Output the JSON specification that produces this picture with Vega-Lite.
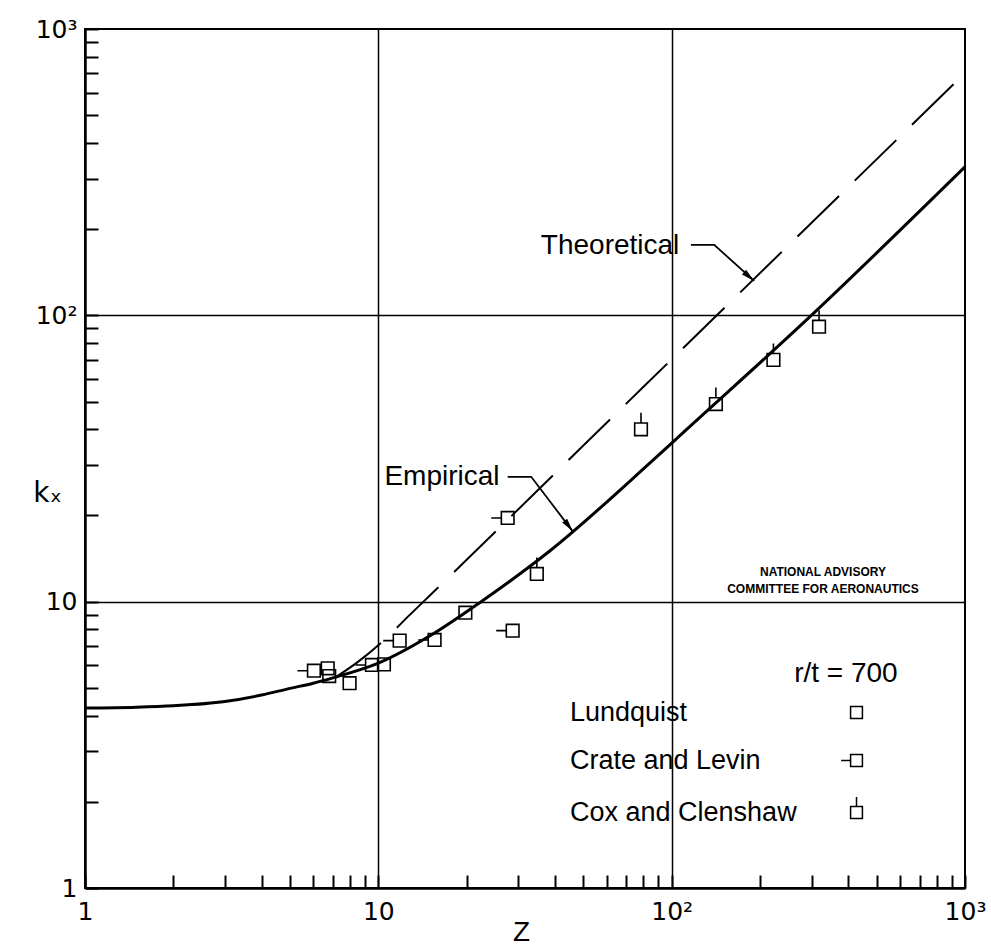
{
  "$schema": "https://vega.github.io/schema/vega-lite/v6.json",
  "width": 880,
  "height": 859,
  "autosize": {"type": "none"},
  "padding": {"left": 85, "top": 29, "right": 26, "bottom": 63},
  "background": "white",
  "config": {"view": {"stroke": "black", "strokeWidth": 2}, "font": "Liberation Sans"},
  "datasets": {
    "empirical": [
      {"Z": 1, "k": 4.25}, {"Z": 1.5, "k": 4.28}, {"Z": 2, "k": 4.33}, {"Z": 3, "k": 4.48},
      {"Z": 4, "k": 4.72}, {"Z": 5, "k": 4.98}, {"Z": 6, "k": 5.19}, {"Z": 7, "k": 5.42},
      {"Z": 10, "k": 6.1}, {"Z": 15, "k": 7.6}, {"Z": 22.4, "k": 10}, {"Z": 38.3, "k": 15.0},
      {"Z": 84, "k": 30.4}, {"Z": 112, "k": 39.8}, {"Z": 287, "k": 96}, {"Z": 1000, "k": 330}
    ],
    "theoretical": [
      {"Z": 7.1, "k": 5.42}, {"Z": 8.5, "k": 6.15}, {"Z": 10.5, "k": 7.37}, {"Z": 12.8, "k": 8.99},
      {"Z": 20, "k": 14.0}, {"Z": 50, "k": 35.1}, {"Z": 100, "k": 70.2}, {"Z": 300, "k": 210.6},
      {"Z": 1000, "k": 702}
    ],
    "tests": [
      {"series": "Lundquist", "Z": 6.72, "k": 5.85},
      {"series": "Lundquist", "Z": 6.8, "k": 5.5},
      {"series": "Lundquist", "Z": 7.98, "k": 5.19},
      {"series": "Lundquist", "Z": 10.45, "k": 6.04},
      {"series": "Lundquist", "Z": 19.8, "k": 9.15},
      {"series": "Crate and Levin", "Z": 6.03, "k": 5.74},
      {"series": "Crate and Levin", "Z": 9.51, "k": 6.01},
      {"series": "Crate and Levin", "Z": 11.82, "k": 7.31},
      {"series": "Crate and Levin", "Z": 15.55, "k": 7.35},
      {"series": "Crate and Levin", "Z": 28.7, "k": 7.92},
      {"series": "Crate and Levin", "Z": 27.6, "k": 19.6},
      {"series": "Cox and Clenshaw", "Z": 34.7, "k": 12.5},
      {"series": "Cox and Clenshaw", "Z": 78.6, "k": 40.0},
      {"series": "Cox and Clenshaw", "Z": 141.5, "k": 49.0},
      {"series": "Cox and Clenshaw", "Z": 222.3, "k": 69.9},
      {"series": "Cox and Clenshaw", "Z": 318, "k": 91.3}
    ],
    "leaders": [
      {"leader": "Theoretical", "seq": 1, "Z": 116.3, "k": 176.2},
      {"leader": "Theoretical", "seq": 2, "Z": 139.7, "k": 176.2},
      {"leader": "Theoretical", "seq": 3, "Z": 191.1, "k": 131.9},
      {"leader": "Empirical", "seq": 1, "Z": 27.6, "k": 27.3},
      {"leader": "Empirical", "seq": 2, "Z": 33.2, "k": 27.3},
      {"leader": "Empirical", "seq": 3, "Z": 46.0, "k": 17.6}
    ]
  },
  "layer": [
    {
      "data": {"name": "empirical"},
      "mark": {"type": "line", "color": "black", "strokeWidth": 3, "interpolate": "monotone"},
      "encoding": {
        "x": {
          "field": "Z", "type": "quantitative",
          "scale": {"type": "log", "domain": [1, 1000], "nice": false},
          "axis": {
            "title": "Z",
            "values": [1, 2, 3, 4, 5, 6, 7, 8, 9, 10, 20, 30, 40, 50, 60, 70, 80, 90, 100, 200, 300, 400, 500, 600, 700, 800, 900, 1000],
            "labelExpr": "datum.value == 1 ? '1' : datum.value == 10 ? '10' : datum.value == 100 ? '10²' : datum.value == 1000 ? '10³' : ''",
            "labelFontSize": 25, "labelColor": "black", "labelFont": "DejaVu Sans",
            "labelPadding": 24, "labelOverlap": false, "labelFlush": false,
            "tickSize": -13, "tickWidth": 2, "tickColor": "black",
            "domainColor": "black", "domainWidth": 2.5,
            "grid": true, "gridColor": "black", "gridWidth": 1.5,
            "gridOpacity": {"condition": {"test": "datum.value == 10 || datum.value == 100", "value": 1}, "value": 0},
            "titleFontSize": 28, "titleFontWeight": "normal", "titleColor": "black", "titleFont": "Liberation Sans",
            "titleX": 436, "titleY": 44, "titleBaseline": "middle", "titleAlign": "center"
          }
        },
        "y": {
          "field": "k", "type": "quantitative",
          "scale": {"type": "log", "domain": [1, 1000], "nice": false},
          "axis": {
            "title": "kₓ",
            "values": [1, 2, 3, 4, 5, 6, 7, 8, 9, 10, 20, 30, 40, 50, 60, 70, 80, 90, 100, 200, 300, 400, 500, 600, 700, 800, 900, 1000],
            "labelExpr": "datum.value == 1 ? '1' : datum.value == 10 ? '10' : datum.value == 100 ? '10²' : datum.value == 1000 ? '10³' : ''",
            "labelFontSize": 25, "labelColor": "black", "labelFont": "DejaVu Sans",
            "labelPadding": 21, "labelOverlap": false, "labelFlush": false,
            "tickSize": -13, "tickWidth": 2, "tickColor": "black",
            "domainColor": "black", "domainWidth": 2.5,
            "grid": true, "gridColor": "black", "gridWidth": 1.5,
            "gridOpacity": {"condition": {"test": "datum.value == 10 || datum.value == 100", "value": 1}, "value": 0},
            "titleFontSize": 28, "titleFontWeight": "normal", "titleColor": "black", "titleFont": "DejaVu Sans",
            "titleAngle": 0, "titleX": -38, "titleY": 464, "titleBaseline": "middle", "titleAlign": "center"
          }
        }
      }
    },
    {
      "data": {"name": "theoretical"},
      "mark": {"type": "line", "color": "black", "strokeWidth": 2, "strokeDash": [58, 22], "interpolate": "monotone"},
      "encoding": {
        "x": {"field": "Z", "type": "quantitative", "scale": {"type": "log", "domain": [1, 1000], "nice": false}},
        "y": {"field": "k", "type": "quantitative", "scale": {"type": "log", "domain": [1, 1000], "nice": false}}
      }
    },
    {
      "data": {"name": "leaders"},
      "mark": {"type": "line", "color": "black", "strokeWidth": 1.8},
      "encoding": {
        "x": {"field": "Z", "type": "quantitative", "scale": {"type": "log", "domain": [1, 1000], "nice": false}},
        "y": {"field": "k", "type": "quantitative", "scale": {"type": "log", "domain": [1, 1000], "nice": false}},
        "detail": {"field": "leader", "type": "nominal"},
        "order": {"field": "seq", "type": "quantitative"}
      }
    },
    {
      "data": {"values": [{"Z": 191.1, "k": 131.9}]},
      "mark": {"type": "point", "shape": "M0,0L-3,-0.7L-3,0.7Z", "size": 80, "filled": true, "color": "black", "opacity": 1, "angle": 41},
      "encoding": {
        "x": {"field": "Z", "type": "quantitative", "scale": {"type": "log", "domain": [1, 1000], "nice": false}},
        "y": {"field": "k", "type": "quantitative", "scale": {"type": "log", "domain": [1, 1000], "nice": false}}
      }
    },
    {
      "data": {"values": [{"Z": 46.0, "k": 17.6}]},
      "mark": {"type": "point", "shape": "M0,0L-3,-0.7L-3,0.7Z", "size": 80, "filled": true, "color": "black", "opacity": 1, "angle": 53},
      "encoding": {
        "x": {"field": "Z", "type": "quantitative", "scale": {"type": "log", "domain": [1, 1000], "nice": false}},
        "y": {"field": "k", "type": "quantitative", "scale": {"type": "log", "domain": [1, 1000], "nice": false}}
      }
    },
    {
      "data": {"name": "tests"},
      "mark": {"type": "point", "filled": false, "color": "black", "strokeWidth": 1.6, "size": 160, "opacity": 1},
      "encoding": {
        "x": {"field": "Z", "type": "quantitative", "scale": {"type": "log", "domain": [1, 1000], "nice": false}},
        "y": {"field": "k", "type": "quantitative", "scale": {"type": "log", "domain": [1, 1000], "nice": false}},
        "shape": {
          "field": "series", "type": "nominal",
          "scale": {
            "domain": ["Lundquist", "Crate and Levin", "Cox and Clenshaw"],
            "range": ["M-1,-1L1,-1L1,1L-1,1Z", "M-1,-1L1,-1L1,1L-1,1ZM-1,0L-2.6,0", "M-1,-1L1,-1L1,1L-1,1ZM0,-1L0,-2.6"]
          },
          "legend": {
            "orient": "none", "legendX": 758, "legendY": 670, "title": null,
            "labelFontSize": 27, "labelFont": "Liberation Sans", "labelColor": "black",
            "labelOffset": -300, "labelAlign": "left", "labelLimit": 0,
            "symbolSize": 140, "symbolStrokeWidth": 1.5, "symbolStrokeColor": "black", "symbolFillColor": "transparent",
            "rowPadding": 20, "padding": 0
          }
        }
      }
    },
    {
      "data": {"values": [{"label": "Theoretical", "Z": 106.2, "k": 163.9}]},
      "mark": {"type": "text", "align": "right", "baseline": "alphabetic", "fontSize": 28, "font": "Liberation Sans", "color": "black"},
      "encoding": {
        "x": {"field": "Z", "type": "quantitative", "scale": {"type": "log", "domain": [1, 1000], "nice": false}},
        "y": {"field": "k", "type": "quantitative", "scale": {"type": "log", "domain": [1, 1000], "nice": false}},
        "text": {"field": "label"}
      }
    },
    {
      "data": {"values": [{"label": "Empirical", "Z": 25.9, "k": 25.6}]},
      "mark": {"type": "text", "align": "right", "baseline": "alphabetic", "fontSize": 28, "font": "Liberation Sans", "color": "black"},
      "encoding": {
        "x": {"field": "Z", "type": "quantitative", "scale": {"type": "log", "domain": [1, 1000], "nice": false}},
        "y": {"field": "k", "type": "quantitative", "scale": {"type": "log", "domain": [1, 1000], "nice": false}},
        "text": {"field": "label"}
      }
    },
    {
      "data": {"values": [{"label": "NATIONAL ADVISORY\nCOMMITTEE FOR AERONAUTICS", "Z": 328, "k": 12.65}]},
      "mark": {"type": "text", "align": "center", "baseline": "middle", "fontSize": 12, "fontWeight": "bold", "font": "Liberation Sans", "color": "black", "lineBreak": "\n", "lineHeight": 17},
      "encoding": {
        "x": {"field": "Z", "type": "quantitative", "scale": {"type": "log", "domain": [1, 1000], "nice": false}},
        "y": {"field": "k", "type": "quantitative", "scale": {"type": "log", "domain": [1, 1000], "nice": false}},
        "text": {"field": "label"}
      }
    },
    {
      "data": {"values": [{"label": "r/t = 700", "Z": 261.5, "k": 5.59}]},
      "mark": {"type": "text", "align": "left", "baseline": "middle", "fontSize": 28, "font": "Liberation Sans", "color": "black"},
      "encoding": {
        "x": {"field": "Z", "type": "quantitative", "scale": {"type": "log", "domain": [1, 1000], "nice": false}},
        "y": {"field": "k", "type": "quantitative", "scale": {"type": "log", "domain": [1, 1000], "nice": false}},
        "text": {"field": "label"}
      }
    }
  ]
}
